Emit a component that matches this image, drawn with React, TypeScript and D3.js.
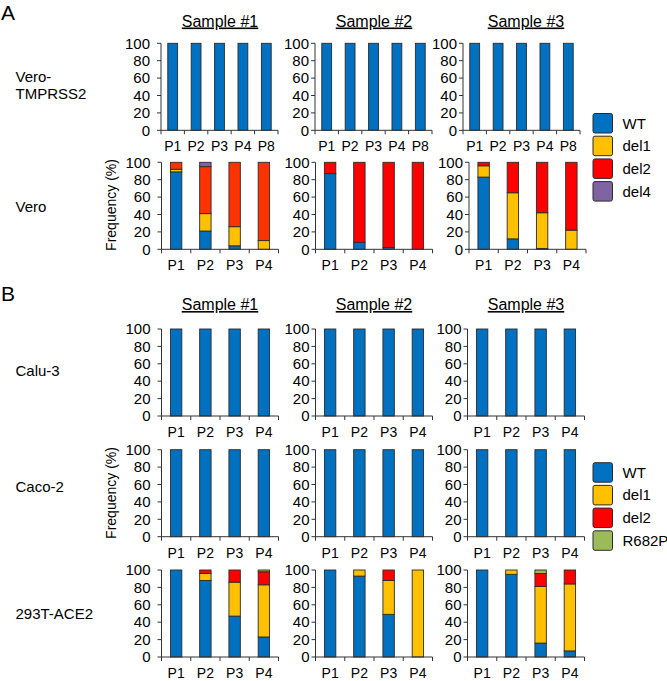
import React from 'react';
import * as d3 from 'd3';

const samples = ['Sample #1', 'Sample #2', 'Sample #3'];
const passagesA1 = ['P1', 'P2', 'P3', 'P4', 'P8'];
const passages = ['P1', 'P2', 'P3', 'P4'];
const yTicks = [0, 20, 40, 60, 80, 100];

const variantsA = ['WT', 'del1', 'del2', 'del4'];
const variantsB = ['WT', 'del1', 'del2', 'R682P'];

// Panel A, Vero-TMPRSS2 (WT %, per sample)
const veroTmprssWT = [
  [100, 100, 100, 100, 100],
  [100, 100, 100, 100, 100],
  [100, 100, 100, 100, 100],
];
// Panel A, Vero
const veroWT = [[89, 21, 4, 0], [87, 8, 2, 0], [83, 12, 1, 0]];
const veroDel1 = [[3, 20, 22, 10], [0, 0, 0, 0], [13, 53, 41, 22]];
const veroDel2 = [[8, 54, 74, 90], [13, 92, 98, 100], [4, 35, 58, 78]];
const veroDel4 = [[0, 5, 0, 0], [0, 0, 0, 0], [0, 0, 0, 0]];

// Panel B
const caluWT = [[100, 100, 100, 100], [100, 100, 100, 100], [100, 100, 100, 100]];
const cacoWT = [[100, 100, 100, 100], [100, 100, 100, 100], [100, 100, 100, 100]];
const aceWT = [[100, 88, 47, 23], [100, 93, 49, 0], [100, 95, 16, 7]];
const aceDel1 = [[0, 8, 39, 60], [0, 7, 39, 100], [0, 5, 65, 77]];
const aceDel2 = [[0, 4, 14, 15], [0, 0, 12, 0], [0, 0, 15, 16]];
const aceR682P = [[0, 0, 0, 2], [0, 0, 0, 0], [0, 0, 4, 0]];

const COLORS: Record<string, string> = {
  WT: '#0070C0',
  del1: '#FFC000',
  del2: '#FF0000',
  del4: '#8064A2',
  R682P: '#9BBB59',
};

const FONT = "'Liberation Sans', Arial, Helvetica, sans-serif";
const colX = [161.5, 315.5, 467.5];
const colXA1 = [161, 315, 463];
const colXA2 = [161.5, 315.5, 469];
const tickGap = [11, 6, 6];
const AXIS_W = 117;
const PLOT_H = 87;
const STROKE = '#2b2b2b';

type PanelProps = {
  x0: number;
  top: number;
  cats: string[];
  keys: string[];
  series: Record<string, number[]>;
  col: number;
  barFrac: number;
  colorOverride?: Record<string, string>;
};

function Panel({ x0, top, cats, keys, series, col, barFrac, colorOverride }: PanelProps) {
  const x = d3.scaleBand<string>().domain(cats).range([0, AXIS_W]).padding(0);
  const y = d3.scaleLinear().domain([0, 100]).range([PLOT_H, 0]);
  const rows = cats.map((c, i) => {
    const r: any = { cat: c };
    keys.forEach((k) => (r[k] = series[k] ? series[k][i] : 0));
    return r;
  });
  const stacked = d3.stack<any>().keys(keys)(rows);
  const bw = x.bandwidth() * barFrac;
  const step = x.step();
  return (
    <g transform={`translate(${x0},${top})`}>
      {stacked.map((layer) =>
        layer.map((d, i) => {
          const h = y(d[0]) - y(d[1]);
          if (h <= 0.01) return null;
          const fill = (colorOverride && colorOverride[layer.key]) || COLORS[layer.key];
          return (
            <rect
              key={layer.key + i}
              x={(x(cats[i]) as number) + x.bandwidth() / 2 - bw / 2}
              y={y(d[1])}
              width={bw}
              height={h}
              fill={fill}
              stroke={STROKE}
              strokeWidth={0.9}
            />
          );
        })
      )}
      {/* y axis */}
      <line x1={0} x2={0} y1={0} y2={PLOT_H} stroke="#333" strokeWidth={1} />
      {yTicks.map((t) => (
        <g key={t}>
          <line x1={-4} x2={0} y1={y(t)} y2={y(t)} stroke="#333" strokeWidth={1} />
          <text
            x={-tickGap[col]}
            y={y(t)}
            dy="0.35em"
            textAnchor="end"
            fontSize={15}
            fontFamily={FONT}
            fill="#000"
          >
            {t}
          </text>
        </g>
      ))}
      {/* x axis */}
      <line x1={0} x2={AXIS_W} y1={PLOT_H} y2={PLOT_H} stroke="#333" strokeWidth={1} />
      {d3.range(cats.length + 1).map((i) => (
        <line key={i} x1={i * step} x2={i * step} y1={PLOT_H} y2={PLOT_H + 4} stroke="#333" strokeWidth={1} />
      ))}
      {cats.map((c) => (
        <text
          key={c}
          x={(x(c) as number) + x.bandwidth() / 2}
          y={PLOT_H + 21}
          textAnchor="middle"
          fontSize={14}
          fontFamily={FONT}
          fill="#000"
        >
          {c}
        </text>
      ))}
    </g>
  );
}

function Legend({ keys, x, top }: { keys: string[]; x: number; top: number }) {
  return (
    <g>
      {keys.map((k, i) => (
        <g key={k} transform={`translate(${x},${top + i * 22.7})`}>
          <rect x={0} y={0} width={19.5} height={19.5} rx={2} fill={COLORS[k]} stroke={STROKE} strokeWidth={1} />
          <text x={29.5} y={15} fontSize={15} fontFamily={FONT} fill="#000">
            {k}
          </text>
        </g>
      ))}
    </g>
  );
}

function SampleTitles({ baseline, xs }: { baseline: number; xs: number[] }) {
  return (
    <g>
      {samples.map((s, i) => {
        const cx = xs[i] + AXIS_W / 2;
        return (
          <text
            key={s}
            x={cx}
            y={baseline}
            textAnchor="middle"
            fontSize={16}
            fontFamily={FONT}
            textDecoration="underline"
            fill="#000"
          >
            {s}
          </text>
        );
      })}
    </g>
  );
}

function RowLabel({ lines, y }: { lines: string[]; y: number }) {
  return (
    <text x={15.5} y={y} fontSize={15} fontFamily={FONT} fill="#000">
      {lines.map((l, i) => (
        <tspan key={i} x={15.5} dy={i === 0 ? 0 : 16.6}>
          {l}
        </tspan>
      ))}
    </text>
  );
}

function FreqLabel({ cy }: { cy: number }) {
  return (
    <text
      transform={`translate(116,${cy}) rotate(-90)`}
      textAnchor="middle"
      fontSize={14}
      fontFamily={FONT}
      fill="#000"
    >
      Frequency (%)
    </text>
  );
}

export default function App() {
  const rowA1 = 43.3;
  const rowA2 = 162.3;
  const rowB = [329, 449.7, 570];
  return (
    <svg
      width={667}
      height={681}
      viewBox="0 0 667 681"
      style={{ position: 'absolute', left: 0, top: 0, background: '#fff' }}
    >
      <rect x={0} y={0} width={667} height={681} fill="#fff" />
      {/* Panel A */}
      <text x={1} y={19.5} fontSize={21} fontFamily={FONT}>A</text>
      <SampleTitles baseline={26.5} xs={colX} />
      <RowLabel lines={['Vero-', 'TMPRSS2']} y={82} />
      <RowLabel lines={['Vero']} y={212} />
      <FreqLabel cy={205} />
      {samples.map((s, i) => (
        <Panel
          key={'a1' + s}
          x0={colXA1[i]}
          top={rowA1}
          cats={passagesA1}
          keys={['WT']}
          series={{ WT: veroTmprssWT[i] }}
          col={i}
          barFrac={0.42}
        />
      ))}
      {samples.map((s, i) => (
        <Panel
          key={'a2' + s}
          x0={colXA2[i]}
          top={rowA2}
          cats={passages}
          keys={variantsA}
          series={{ WT: veroWT[i], del1: veroDel1[i], del2: veroDel2[i], del4: veroDel4[i] }}
          col={i}
          barFrac={0.39}
          colorOverride={i === 0 ? { del2: '#FF3300' } : undefined}
        />
      ))}
      <Legend keys={variantsA} x={593} top={113.5} />

      {/* Panel B */}
      <text x={1} y={301} fontSize={21} fontFamily={FONT}>B</text>
      <SampleTitles baseline={310} xs={colX} />
      <RowLabel lines={['Calu-3']} y={375.5} />
      <RowLabel lines={['Caco-2']} y={492} />
      <RowLabel lines={['293T-ACE2']} y={618.5} />
      <FreqLabel cy={493} />
      {samples.map((s, i) => (
        <Panel
          key={'b1' + s}
          x0={colX[i]}
          top={rowB[0]}
          cats={passages}
          keys={['WT']}
          series={{ WT: caluWT[i] }}
          col={i}
          barFrac={0.39}
        />
      ))}
      {samples.map((s, i) => (
        <Panel
          key={'b2' + s}
          x0={colX[i]}
          top={rowB[1]}
          cats={passages}
          keys={['WT']}
          series={{ WT: cacoWT[i] }}
          col={i}
          barFrac={0.39}
        />
      ))}
      {samples.map((s, i) => (
        <Panel
          key={'b3' + s}
          x0={colX[i]}
          top={rowB[2]}
          cats={passages}
          keys={variantsB}
          series={{ WT: aceWT[i], del1: aceDel1[i], del2: aceDel2[i], R682P: aceR682P[i] }}
          col={i}
          barFrac={0.39}
        />
      ))}
      <Legend keys={variantsB} x={593} top={462.7} />
    </svg>
  );
}
